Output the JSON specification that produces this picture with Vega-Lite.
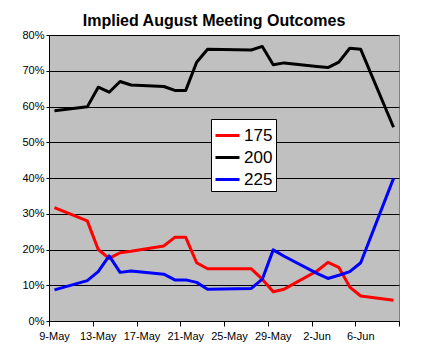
{
  "$schema": "https://vega.github.io/schema/vega-lite/v6.json",
  "width": 350,
  "height": 286,
  "autosize": {"type": "none"},
  "padding": {"left": 49, "top": 35, "right": 26, "bottom": 34},
  "background": "white",
  "title": {
    "text": "Implied August Meeting Outcomes",
    "font": "Liberation Sans",
    "fontSize": 16,
    "fontWeight": "bold",
    "color": "black",
    "anchor": "middle",
    "frame": "group",
    "baseline": "alphabetic",
    "offset": 10,
    "dx": -10,
    "dy": 23
  },
  "datasets": {
    "rows": [
      {"date": "2008-05-09", "series": "175", "value": 0.317},
      {"date": "2008-05-12", "series": "175", "value": 0.280},
      {"date": "2008-05-13", "series": "175", "value": 0.200},
      {"date": "2008-05-14", "series": "175", "value": 0.175},
      {"date": "2008-05-15", "series": "175", "value": 0.191},
      {"date": "2008-05-16", "series": "175", "value": 0.195},
      {"date": "2008-05-19", "series": "175", "value": 0.210},
      {"date": "2008-05-20", "series": "175", "value": 0.234},
      {"date": "2008-05-21", "series": "175", "value": 0.234},
      {"date": "2008-05-22", "series": "175", "value": 0.163},
      {"date": "2008-05-23", "series": "175", "value": 0.146},
      {"date": "2008-05-27", "series": "175", "value": 0.146},
      {"date": "2008-05-28", "series": "175", "value": 0.117},
      {"date": "2008-05-29", "series": "175", "value": 0.082},
      {"date": "2008-05-30", "series": "175", "value": 0.089},
      {"date": "2008-06-02", "series": "175", "value": 0.140},
      {"date": "2008-06-03", "series": "175", "value": 0.164},
      {"date": "2008-06-04", "series": "175", "value": 0.150},
      {"date": "2008-06-05", "series": "175", "value": 0.095},
      {"date": "2008-06-06", "series": "175", "value": 0.070},
      {"date": "2008-06-09", "series": "175", "value": 0.058},
      {"date": "2008-05-09", "series": "200", "value": 0.588},
      {"date": "2008-05-12", "series": "200", "value": 0.599},
      {"date": "2008-05-13", "series": "200", "value": 0.654},
      {"date": "2008-05-14", "series": "200", "value": 0.640},
      {"date": "2008-05-15", "series": "200", "value": 0.670},
      {"date": "2008-05-16", "series": "200", "value": 0.660},
      {"date": "2008-05-19", "series": "200", "value": 0.656},
      {"date": "2008-05-20", "series": "200", "value": 0.645},
      {"date": "2008-05-21", "series": "200", "value": 0.645},
      {"date": "2008-05-22", "series": "200", "value": 0.724},
      {"date": "2008-05-23", "series": "200", "value": 0.760},
      {"date": "2008-05-27", "series": "200", "value": 0.758},
      {"date": "2008-05-28", "series": "200", "value": 0.768},
      {"date": "2008-05-29", "series": "200", "value": 0.717},
      {"date": "2008-05-30", "series": "200", "value": 0.722},
      {"date": "2008-06-02", "series": "200", "value": 0.712},
      {"date": "2008-06-03", "series": "200", "value": 0.709},
      {"date": "2008-06-04", "series": "200", "value": 0.724},
      {"date": "2008-06-05", "series": "200", "value": 0.763},
      {"date": "2008-06-06", "series": "200", "value": 0.760},
      {"date": "2008-06-09", "series": "200", "value": 0.542},
      {"date": "2008-05-09", "series": "225", "value": 0.087},
      {"date": "2008-05-12", "series": "225", "value": 0.113},
      {"date": "2008-05-13", "series": "225", "value": 0.138},
      {"date": "2008-05-14", "series": "225", "value": 0.182},
      {"date": "2008-05-15", "series": "225", "value": 0.136},
      {"date": "2008-05-16", "series": "225", "value": 0.140},
      {"date": "2008-05-19", "series": "225", "value": 0.131},
      {"date": "2008-05-20", "series": "225", "value": 0.115},
      {"date": "2008-05-21", "series": "225", "value": 0.115},
      {"date": "2008-05-22", "series": "225", "value": 0.108},
      {"date": "2008-05-23", "series": "225", "value": 0.089},
      {"date": "2008-05-27", "series": "225", "value": 0.091},
      {"date": "2008-05-28", "series": "225", "value": 0.117},
      {"date": "2008-05-29", "series": "225", "value": 0.199},
      {"date": "2008-05-30", "series": "225", "value": 0.181},
      {"date": "2008-06-02", "series": "225", "value": 0.133},
      {"date": "2008-06-03", "series": "225", "value": 0.119},
      {"date": "2008-06-04", "series": "225", "value": 0.128},
      {"date": "2008-06-05", "series": "225", "value": 0.138},
      {"date": "2008-06-06", "series": "225", "value": 0.163},
      {"date": "2008-06-09", "series": "225", "value": 0.399}
    ]
  },
  "data": {"name": "rows"},
  "mark": {"type": "line", "strokeWidth": 3, "strokeJoin": "round", "clip": false},
  "encoding": {
    "x": {
      "field": "date",
      "type": "temporal",
      "timeUnit": "utcyearmonthdate",
      "bandPosition": 0.5,
      "scale": {
        "type": "utc",
        "domain": [
          {"year": 2008, "month": 5, "date": 9, "utc": true},
          {"year": 2008, "month": 6, "date": 10, "utc": true}
        ]
      },
      "axis": {
        "title": null,
        "grid": false,
        "values": [
          {"year": 2008, "month": 5, "date": 9, "utc": true},
          {"year": 2008, "month": 5, "date": 13, "utc": true},
          {"year": 2008, "month": 5, "date": 17, "utc": true},
          {"year": 2008, "month": 5, "date": 21, "utc": true},
          {"year": 2008, "month": 5, "date": 25, "utc": true},
          {"year": 2008, "month": 5, "date": 29, "utc": true},
          {"year": 2008, "month": 6, "date": 2, "utc": true},
          {"year": 2008, "month": 6, "date": 6, "utc": true},
          {"year": 2008, "month": 6, "date": 10, "utc": true}
        ],
        "labelExpr": "utcmonth(datum.value) == 5 && utcdate(datum.value) == 10 ? '' : utcFormat(datum.value, '%-d-%b')",
        "labelOffset": 5,
        "labelFont": "Liberation Sans",
        "labelFontSize": 11,
        "labelColor": "black",
        "labelPadding": 4,
        "labelOverlap": false,
        "labelFlush": false,
        "tickSize": 5,
        "tickColor": "black",
        "domainColor": "black",
        "domainWidth": 1
      }
    },
    "y": {
      "field": "value",
      "type": "quantitative",
      "scale": {"domain": [0, 0.8], "nice": false},
      "axis": {
        "title": null,
        "values": [0, 0.1, 0.2, 0.3, 0.4, 0.5, 0.6, 0.7, 0.8],
        "format": ".0%",
        "grid": true,
        "gridColor": "black",
        "gridWidth": 1,
        "gridOpacity": 1,
        "labelFont": "Liberation Sans",
        "labelFontSize": 11,
        "labelColor": "black",
        "labelPadding": 2,
        "tickSize": 3,
        "tickColor": "black",
        "domainColor": "black",
        "domainWidth": 1
      }
    },
    "color": {
      "field": "series",
      "type": "nominal",
      "scale": {"domain": ["175", "200", "225"], "range": ["#FF0000", "#000000", "#0000FF"]},
      "legend": {
        "title": null,
        "orient": "none",
        "legendX": 162,
        "legendY": 84,
        "fillColor": "white",
        "strokeColor": "black",
        "padding": 3,
        "symbolType": "stroke",
        "symbolSize": 576,
        "symbolStrokeWidth": 3,
        "labelFont": "Liberation Sans",
        "labelFontSize": 17,
        "labelColor": "black",
        "labelOffset": 3,
        "rowPadding": 0,
        "cornerRadius": 0
      }
    }
  },
  "config": {
    "view": {"fill": "#C0C0C0", "stroke": "#808080", "strokeWidth": 1}
  }
}
